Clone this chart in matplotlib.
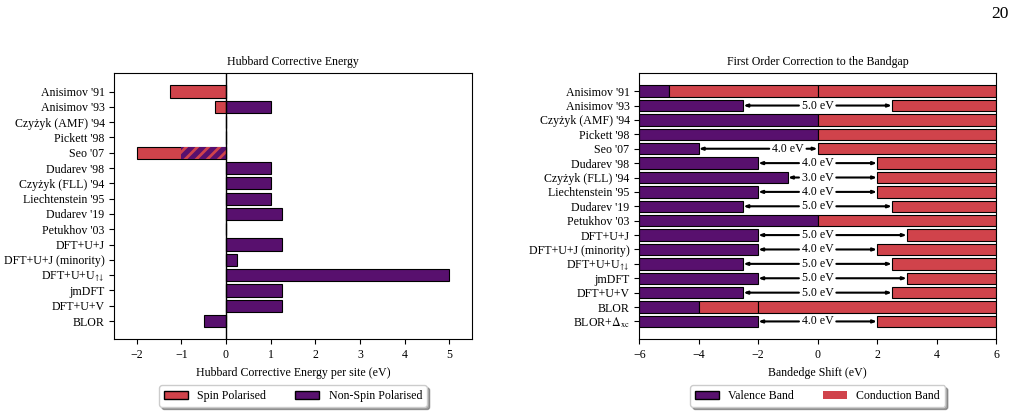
import matplotlib
matplotlib.use('Agg')
import matplotlib.pyplot as plt
from matplotlib.patches import Patch

plt.rcParams['font.family'] = ['Liberation Serif', 'DejaVu Serif']
plt.rcParams['mathtext.fontset'] = 'stix'
plt.rcParams['font.size'] = 8.6
plt.rcParams['hatch.linewidth'] = 2.0

RED = '#d0434b'
PURPLE = '#58106e'

# left panel: Hubbard corrective energy per site (eV)
methods_left = ["Anisimov '91", "Anisimov '93", "Czyżyk (AMF) '94", "Pickett '98", "Seo '07",
                "Dudarev '98", "Czyżyk (FLL) '94", "Liechtenstein '95", "Dudarev '19",
                "Petukhov '03", "DFT+U+J", "DFT+U+J (minority)", "DFT+U+U$_{↑↓}$",
                "jmDFT", "DFT+U+V", "BLOR"]
spin_pol = [-1.25, -0.25, 0, 0, -2.0, 0, 0, 0, 0, 0, 0, 0, 0, 0, 0, 0]
non_spin = [0, 1.0, 0, 0, 0, 1.0, 1.0, 1.0, 1.25, 0, 1.25, 0.25, 5.0, 1.25, 1.25, -0.5]
seo_hatched = -1.0  # shared part of Seo '07

# right panel: band edge shifts (eV)
methods_right = methods_left + [r"BLOR+$\Delta_{\rm xc}$"]
vb_edge = [-5, -2.5, 0, 0, -4, -2, -1, -2, -2.5, 0, -2, -2, -2.5, -2, -2.5, -4, -2]
cb_edge = [-5, 2.5, 0, 0, 0, 2, 2, 2, 2.5, 0, 3, 2, 2.5, 3, 2.5, -4, 2]
cb_split = [0, None, None, None, None, None, None, None, None, None, None, None, None, None, None, -2, None]

fig = plt.figure(figsize=(10.16, 4.16), dpi=100)
ax1 = fig.add_axes([0.1125, 0.1844, 0.3518, 0.6394])
ax2 = fig.add_axes([0.6292, 0.1844, 0.3511, 0.6394])

# ---- left
y = list(range(len(methods_left)))
ax1.barh(y, spin_pol, color=RED, edgecolor='k', lw=0.8)
ax1.barh(y, non_spin, color=PURPLE, edgecolor='k', lw=0.8)
ax1.barh(methods_left.index("Seo '07"), seo_hatched, color=PURPLE, edgecolor=RED, lw=0, hatch='///')
ax1.axvline(0, color='k', lw=1)
ax1.set_yticks(y)
ax1.set_yticklabels(methods_left)
ax1.invert_yaxis()
ax1.set_xlim(-2.5, 5.5)
ax1.set_xlabel('Hubbard Corrective Energy per site (eV)')
ax1.set_title('Hubbard Corrective Energy', fontsize=8.6)
ax1.legend(handles=[Patch(facecolor=RED, edgecolor='k', label='Spin Polarised'),
                    Patch(facecolor=PURPLE, edgecolor='k', label='Non-Spin Polarised')],
           loc='upper center', bbox_to_anchor=(0.5, -0.15), ncol=2, shadow=True,
           columnspacing=2.4)

# ---- right
y2 = list(range(len(methods_right)))
for i in y2:
    vb, cb, sp = vb_edge[i], cb_edge[i], cb_split[i]
    ax2.barh(i, vb + 6, left=-6, color=PURPLE, edgecolor='k', lw=0.8)
    if sp is None:
        ax2.barh(i, 6 - cb, left=cb, color=RED, edgecolor='k', lw=0.8)
    else:
        ax2.barh(i, sp - cb, left=cb, color=RED, edgecolor='k', lw=0.8)
        ax2.barh(i, 6 - sp, left=sp, color=RED, edgecolor='k', lw=0.8)
    gap = cb - vb
    if gap > 0:
        tx = min(0, cb - 1)
        label = '%.1f eV' % gap
        ap = dict(arrowstyle='-|>,head_length=0.25,head_width=0.09', lw=1.5, color='k',
                  shrinkA=0, shrinkB=0)
        ax2.annotate(label, xy=(vb, i), xytext=(tx, i), ha='center', va='center', arrowprops=ap)
        ax2.annotate(label, xy=(cb, i), xytext=(tx, i), ha='center', va='center', color='none',
                     arrowprops=ap)
ax2.set_yticks(y2)
ax2.set_yticklabels(methods_right)
ax2.invert_yaxis()
ax2.set_xlim(-6, 6)
ax2.set_xlabel('Bandedge Shift (eV)')
ax2.set_title('First Order Correction to the Bandgap', fontsize=8.6)
ax2.legend(handles=[Patch(facecolor=PURPLE, edgecolor='k', label='Valence Band'),
                    Patch(facecolor=RED, edgecolor='none', label='Conduction Band')],
           loc='upper center', bbox_to_anchor=(0.5, -0.15), ncol=2, shadow=True,
           columnspacing=2.4)

fig.text(0.993, 0.966, '20', ha='right', va='center', fontsize=12.5)

fig.savefig('out.png', dpi=100)
